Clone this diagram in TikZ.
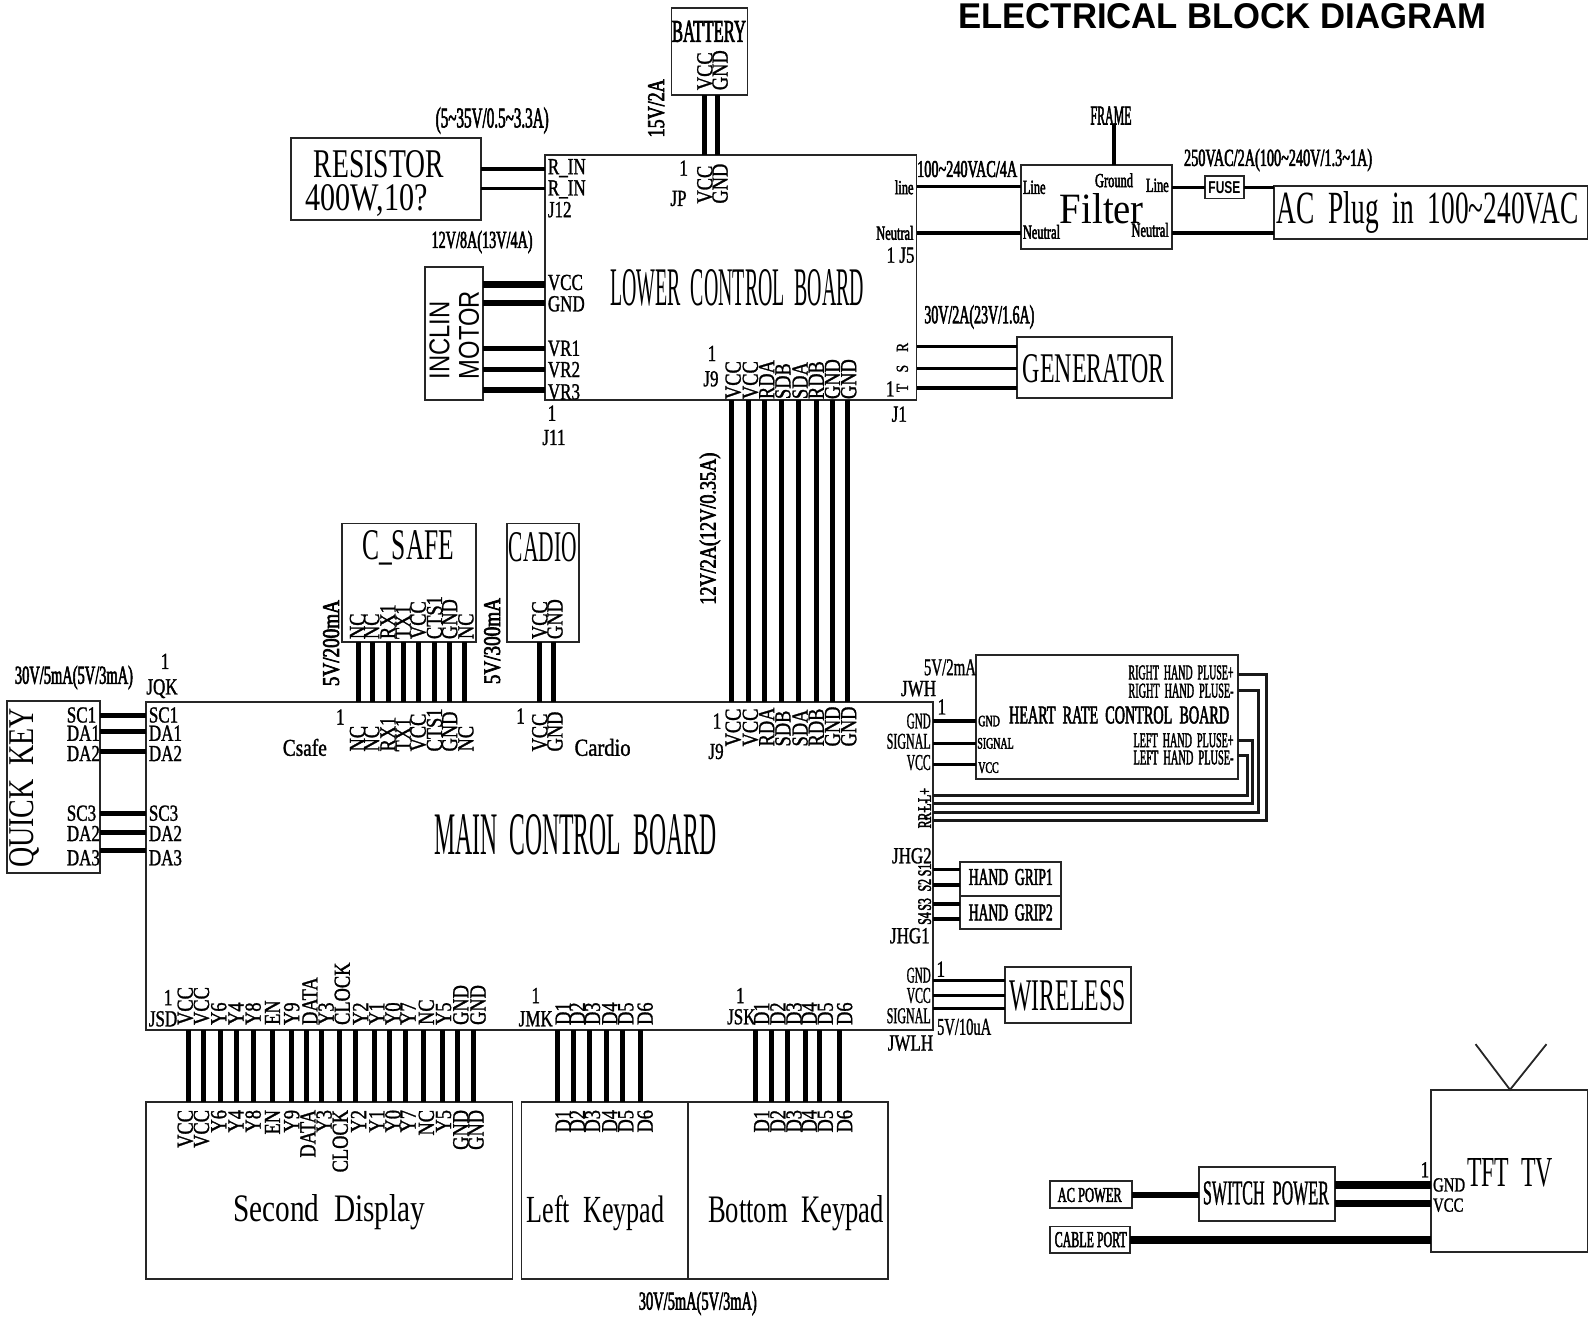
\documentclass[tikz,border=0pt]{standalone}
\usepackage{fontspec}
\usepackage{graphicx}
\setmainfont{Liberation Serif}
\newfontfamily\pinf[FakeStretch=0.8,FakeBold=1.2]{Liberation Serif}
\newfontfamily\hpinf[FakeStretch=0.74,FakeBold=1.2]{Liberation Serif}
\newfontfamily\smallf[FakeStretch=0.62,FakeBold=2.2]{Liberation Serif}
\newfontfamily\sansf{Liberation Sans}
\newcounter{lc}
\newcommand\tlab[3][]{\stepcounter{lc}\node[lab,#1] (t\thelc) at (#2) {#3};}
\newcommand\fitt[3]{\resizebox{#1pt}{#2pt}{#3}}
\newcommand\bx[5]{\node[box,minimum width={1.01276pt*(#4-#2)},minimum height={1.01276pt*(#5-#3)}] (#1) at (#2,#3) {};}
\tikzset{
  box/.style={draw=black!85,line width=1.8pt,anchor=north west,inner sep=0pt,outer sep=0pt,fill=white},
  lab/.style={inner sep=0pt,outer sep=0pt,text=black},
  wthin/.style={line width=3.5pt,black},
  wmid/.style={line width=5pt,black},
  wthick/.style={line width=6.5pt,black},
  wfine/.style={line width=3pt,black!90},
  pinv/.style={font=\fontsize{23}{23}\pinf,rotate=90,anchor=west},
  pinvd/.style={font=\fontsize{23}{23}\pinf,rotate=90,anchor=east},
  pinh/.style={font=\fontsize{23}{23}\hpinf,anchor=west},
  pinhe/.style={font=\fontsize{23}{23}\hpinf,anchor=east},
  tiny/.style={font=\fontsize{16}{16}\smallf},
  blob/.style={font=\fontsize{19}{19}\smallf,rotate=90},
}
\begin{document}
\begin{tikzpicture}[x=1.01276pt,y=-1.01276pt]
\useasboundingbox (0,0) rectangle (1568,1300);
% boxes
\bx{lower}{538}{153}{905}{395}
\bx{mainb}{144}{693}{921}{1017}
\bx{battery}{663}{8}{738}{94}
\bx{resistor}{287}{136}{475}{217}
\bx{inclin}{420}{264}{477}{395}
\bx{filter}{1008}{163}{1157}{246}
\bx{fuse}{1190}{174}{1228}{196}
\bx{acplug}{1258}{184}{1568}{236}
\bx{generator}{1004}{333}{1157}{393}
\bx{csafe}{338}{517}{470}{634}
\bx{cadio}{501}{517}{572}{634}
\bx{quick}{7}{692}{99}{862}
\bx{heart}{964}{647}{1222}{769}
\bx{grip1}{948}{851}{1048}{885}
\bx{grip2}{948}{885}{1048}{917}
\bx{wireless}{992}{955}{1117}{1010}
\bx{second}{144}{1088}{506}{1263}
\bx{leftk}{515}{1088}{679}{1263}
\bx{bottomk}{679}{1088}{877}{1263}
\bx{tv}{1413}{1076}{1568}{1236}
\bx{acpower}{1037}{1166}{1118}{1193}
\bx{switch}{1184}{1152}{1318}{1206}
\bx{cable}{1037}{1211}{1116}{1237}
% wires
\foreach \x in {696,708} \draw[wmid] (battery.south -| \x,0) -- (lower.north -| \x,0);
\foreach \y in {167,186} \draw[wthin] (resistor.east |- 0,\y) -- (lower.west |- 0,\y);
\foreach \y in {281,299} \draw[wthick] (inclin.east |- 0,\y) -- (lower.west |- 0,\y);
\foreach \y in {344,365} \draw[wmid] (inclin.east |- 0,\y) -- (lower.west |- 0,\y);
\draw[wthick] (inclin.east |- 0,385) -- (lower.west |- 0,385);
\foreach \y in {184,230} \draw[wthin] (lower.east |- 0,\y) -- (filter.west |- 0,\y);
\foreach \y in {342,364,383} \draw[wthin] (lower.east |- 0,\y) -- (generator.west |- 0,\y);
\draw[wthin] (filter.east |- 0,185) -- (fuse.west |- 0,185);
\draw[wthin] (fuse.east |- 0,185) -- (acplug.west |- 0,185);
\draw[wthin] (filter.east |- 0,230) -- (acplug.west |- 0,230);
\foreach \x in {722,739,755,772,788,806,822,837} \draw[wmid] (lower.south -| \x,0) -- (mainb.north -| \x,0);
\foreach \x in {354,368,384,398,413,429,444,459} \draw[wmid] (csafe.south -| \x,0) -- (mainb.north -| \x,0);
\foreach \x in {533,547} \draw[wmid] (cadio.south -| \x,0) -- (mainb.north -| \x,0);
\foreach \y in {706,722,742,803,822,840} \draw[wmid] (quick.east |- 0,\y) -- (mainb.west |- 0,\y);
\foreach \y in {712,734,755} \draw[wthin] (mainb.east |- 0,\y) -- (heart.west |- 0,\y);
\coordinate (c1) at (1250.7,666); \coordinate (c2) at (1243,682); \coordinate (c3) at (1237,731); \coordinate (c4) at (1232,746);
\draw[wfine] (heart.east |- c1) -- (c1) -- (c1 |- 0,810.6) -- (mainb.east |- 0,810.6);
\draw[wfine] (heart.east |- c2) -- (c2) -- (c2 |- 0,802.4) -- (mainb.east |- 0,802.4);
\draw[wfine] (heart.east |- c3) -- (c3) -- (c3 |- 0,793.8) -- (mainb.east |- 0,793.8);
\draw[wfine] (heart.east |- c4) -- (c4) -- (c4 |- 0,785.6) -- (mainb.east |- 0,785.6);
\foreach \y in {858.4,873.8} \draw[wthin] (mainb.east |- 0,\y) -- (grip1.west |- 0,\y);
\foreach \y in {892.6,907.4} \draw[wthin] (mainb.east |- 0,\y) -- (grip2.west |- 0,\y);
\foreach \y in {968.3,983,995.6} \draw[wthin] (mainb.east |- 0,\y) -- (wireless.west |- 0,\y);
\foreach \x in {186,201,217.7,233.5,250.7,269.3,288,302.7,317.5,335.7,351.4,369.6,384.8,400,418.2,436.8,452.1,467.3}
  \draw[wmid] (mainb.south -| \x,0) -- (second.north -| \x,0);
\foreach \x in {550.8,566.6,581.8,598.9,614.6,632.9} \draw[wmid] (mainb.south -| \x,0) -- (leftk.north -| \x,0);
\foreach \x in {746.3,762,777.8,794.9,809.6,828.9} \draw[wmid] (mainb.south -| \x,0) -- (bottomk.north -| \x,0);
\draw[wthick] (acpower.east |- 0,1180) -- (switch.west |- 0,1180);
\draw[line width=8pt] (switch.east |- 0,1170) -- (tv.west |- 0,1170);
\draw[line width=7pt] (switch.east |- 0,1188) -- (tv.west |- 0,1188);
\draw[line width=8pt] (cable.east |- 0,1224) -- (tv.west |- 0,1224);
% antenna
\coordinate (ant1) at (1457,1031); \coordinate (ant2) at (1527,1031); \coordinate (antb) at (1491,1076);
\draw[line width=1.8pt,black!85] (ant1) -- (antb) -- (ant2);
% title
\tlab{1207,16}{\fitt{528}{25}{\sansf\bfseries ELECTRICAL BLOCK DIAGRAM}}
% big labels
\node[lab] (frame) at (1097,114) {\fitt{41}{18}{\smallf FRAME}};
\draw[wthin] (frame.south -| 1100,0) -- (filter.north -| 1100,0);
\tlab{700,31}{\fitt{74}{21}{\smallf BATTERY}}
\tlab{374,162}{\fitt{130}{27}{RESISTOR}}
\tlab{362,198}{\fitt{122}{26}{400W,10?}}
\tlab[rotate=90]{434,336}{\fitt{78}{20}{\sansf INCLIN}}
\tlab[rotate=90]{463,331}{\fitt{88}{20}{\sansf MOTOR}}
\tlab{728,284}{\fitt{254}{36}{LOWER\ \ CONTROL\ \ BOARD}}
\tlab{1080,364}{\fitt{142}{28}{GENERATOR}}
\tlab{1088,206}{\fitt{84}{30}{Filter}}
\tlab{1209,185}{\fitt{32}{12}{\sansf\bfseries FUSE}}
\tlab{1410,210}{\fitt{302}{32}{AC\ \ Plug\ \ in\ \ 100\textasciitilde 240VAC}}
\tlab{403,541}{\fitt{92}{29}{C\_SAFE}}
\tlab{536,540}{\fitt{68}{29}{CADIO}}
\tlab{568,824}{\fitt{282}{40}{MAIN\ \ CONTROL\ \ BOARD}}
\tlab[rotate=90]{24,778}{\fitt{160}{24}{QUICK\ \ KEY}}
\tlab{1105,706}{\fitt{220}{17}{\smallf HEART\ \ RATE\ \ CONTROL\ \ BOARD}}
\tlab{998,866}{\fitt{84}{16}{\smallf HAND\ \ GRIP1}}
\tlab{998,901}{\fitt{84}{16}{\smallf HAND\ \ GRIP2}}
\tlab{1054,983}{\fitt{116}{30}{WIRELESS}}
\tlab{325,1197}{\fitt{192}{27}{Second\ \ Display}}
\tlab{588,1198}{\fitt{138}{27}{Left\ \ Keypad}}
\tlab{786,1198}{\fitt{176}{27}{Bottom\ \ Keypad}}
\tlab{1491,1158}{\fitt{86}{28}{TFT\ \ TV}}
\tlab{1076,1180}{\fitt{64}{14}{\smallf AC POWER}}
\tlab{1250,1178}{\fitt{126}{23}{\hpinf SWITCH\ \ POWER}}
\tlab{1077,1224}{\fitt{72}{15}{\smallf CABLE PORT}}
% notes
\tlab{486,119}{\fitt{113}{20}{\smallf (5\textasciitilde 35V/0.5\textasciitilde 3.3A)}}
\tlab[rotate=90]{648,107}{\fitt{58}{16}{\smallf 15V/2A}}
\tlab{476,239}{\fitt{101}{17}{\smallf 12V/8A(13V/4A)}}
\tlab{955,167}{\fitt{100}{16}{\smallf 100\textasciitilde 240VAC/4A}}
\tlab{1262,158}{\fitt{188}{17}{\smallf 250VAC/2A(100\textasciitilde 240V/1.3\textasciitilde 1A)}}
\tlab{967,313}{\fitt{110}{18}{\smallf 30V/2A(23V/1.6A)}}
\tlab[rotate=90]{701,522}{\fitt{152}{16}{\smallf 12V/2A(12V/0.35A)}}
\tlab[rotate=90]{327,635}{\fitt{86}{16}{\smallf 5V/200mA}}
\tlab[rotate=90]{486,633}{\fitt{86}{16}{\smallf 5V/300mA}}
\tlab{73,669}{\fitt{118}{18}{\smallf 30V/5mA(5V/3mA)}}
\tlab{938,659}{\fitt{52}{16}{\hpinf 5V/2mA}}
\tlab{952,1014}{\fitt{54}{16}{\hpinf 5V/10uA}}
\tlab{689,1287}{\fitt{118}{18}{\smallf 30V/5mA(5V/3mA)}}
% lower board pins
\foreach \t/\y in {R\_IN/166,R\_IN/187,J12/207,VCC/279,GND/300,VR1/344,VR2/365,VR3/387} {\tlab[pinh]{541,\y}{\t}}
\foreach \t/\x in {VCC/696,GND/711} {\tlab[pinv]{\x,201}{\t}\tlab[pinv]{\x,89}{\t}}
\tlab[pinh,anchor=center]{675,166}{1}
\tlab[pinh,anchor=center]{670,196}{JP}
\tlab[pinh,anchor=center]{545,408}{1}
\tlab[pinh,anchor=center]{547,432}{J11}
\tlab[pinh,anchor=center]{703,349}{1}
\tlab[pinh,anchor=center]{702,374}{J9}
\foreach \t/\x in {VCC/724,VCC/741,RDA/757,SDB/773,SDA/790,RDB/806,GND/822,GND/838} {\tlab[pinv]{\x,394}{\t}}
\tlab[pinhe,font=\fontsize{20}{20}\smallf]{902,185}{line}
\tlab[pinhe,font=\fontsize{20}{20}\smallf]{902,230}{Neutral}
\tlab[pinhe]{903,252}{1 J5}
\tlab[pinv,font=\fontsize{17}{17}\pinf,anchor=center]{891,343}{R}
\tlab[pinv,font=\fontsize{17}{17}\pinf,anchor=center]{891,364}{S}
\tlab[pinv,font=\fontsize{17}{17}\pinf,anchor=center]{891,383}{T}
\tlab[pinh,anchor=center]{879,384}{1}
\tlab[pinh,anchor=center]{888,409}{J1}
% filter pins
\tlab[font=\fontsize{20}{20}\smallf,anchor=west]{1010,185}{Line}
\tlab[font=\fontsize{20}{20}\smallf,anchor=west]{1010,229}{Neutral}
\tlab[font=\fontsize{20}{20}\smallf]{1100,178}{Ground}
\tlab[font=\fontsize{20}{20}\smallf,anchor=east]{1154,183}{Line}
\tlab[font=\fontsize{20}{20}\smallf,anchor=east]{1154,227}{Neutral}
% c_safe / cardio
\foreach \t/\x in {NC/353,NC/367,RX1/383,TX1/398,VCC/413,CTS1/429,GND/444,NC/460} {\tlab[pinv]{\x,631}{\t}\tlab[pinv]{\x,742}{\t}}
\foreach \t/\x in {VCC/533,GND/548} {\tlab[pinv]{\x,631}{\t}\tlab[pinv]{\x,742}{\t}}
\tlab[pinh,anchor=center]{336,708}{1}
\tlab[pinh,anchor=center]{514,707}{1}
\tlab{301,738}{\fitt{44}{17}{\hpinf Csafe}}
\tlab{595,738}{\fitt{56}{17}{\hpinf Cardio}}
\tlab[pinh,anchor=center]{708,712}{1}
\tlab[pinh,anchor=center]{707,742}{J9}
\foreach \t/\x in {VCC/724,VCC/741,RDA/757,SDB/773,SDA/790,RDB/806,GND/822,GND/838} {\tlab[pinv]{\x,737}{\t}}
% quick key
\tlab[pinh,anchor=center]{163,653}{1}
\tlab[pinh,anchor=center]{160,680}{JQK}
\foreach \t/\y in {SC1/706,DA1/724,DA2/744,SC3/803,DA2/823,DA3/847} {\tlab[pinh]{66,\y}{\t}\tlab[pinh]{147,\y}{\t}}
% right side
\tlab[pinh,anchor=center]{907,680}{JWH}
\tlab[pinh,anchor=center]{930,698}{1}
\foreach \t/\y in {GND/712,VCC/753,GND/963,VCC/983} {\tlab[anchor=east]{919,\y}{\fitt{24}{15}{\hpinf \t}}}
\foreach \y in {732,1003} {\tlab[anchor=east]{919,\y}{\fitt{44}{15}{\hpinf SIGNAL}}}
\tlab[tiny,anchor=west]{966,712}{GND}
\tlab[tiny,anchor=west]{965,734}{SIGNAL}
\tlab[tiny,anchor=west]{966,758}{VCC}
\tlab[anchor=east]{1218,664}{\fitt{105}{14}{\smallf RIGHT\ \ HAND\ \ PLUSE+}}
\tlab[anchor=east]{1218,682}{\fitt{105}{14}{\smallf RIGHT\ \ HAND\ \ PLUSE-}}
\tlab[anchor=east]{1218,731}{\fitt{100}{14}{\smallf LEFT\ \ HAND\ \ PLUSE+}}
\tlab[anchor=east]{1218,748}{\fitt{100}{14}{\smallf LEFT\ \ HAND\ \ PLUSE-}}
\foreach \t/\y in {L+/785,L-/795,R+/803,R-/812,S1/859,S2/874,S3/893,S4/907} {\tlab[blob]{913,\y}{\t}}
\tlab[pinhe]{920,845}{JHG2}
\tlab[pinhe]{918,924}{JHG1}
\tlab[pinh,anchor=center]{899,1030}{JWLH}
\tlab[pinh,anchor=center]{929,957}{1}
% bottom
\tlab[pinh,anchor=center]{166,985}{1}
\tlab[pinh,anchor=center]{161,1006}{JSD}
\tlab[pinh,anchor=center]{529,983}{1}
\tlab[pinh,anchor=center]{529,1006}{JMK}
\tlab[pinh,anchor=center]{731,983}{1}
\tlab[pinh,anchor=center]{732,1004}{JSK}
\foreach \t/\x in {VCC/183,VCC/199,Y6/216,Y4/233,Y8/250,EN/269,Y9/288,DATA/306,Y3/322,CLOCK/338,Y2/356,Y1/372,Y0/388,Y7/403,NC/421,Y5/438,GND/455,GND/472}
  {\tlab[pinv]{\x,1012}{\t}}
\foreach \t/\x in {VCC/183,VCC/199,Y6/216,Y4/233,Y8/250,EN/269,Y9/288,DATA/304,Y3/320,CLOCK/336,Y2/354,Y1/372,Y0/388,Y7/403,NC/421,Y5/438,GND/455,GND/470}
  {\tlab[pinvd]{\x,1096}{\t}}
\foreach \t/\x in {D1/556,D2/570,D3/585,D4/602,D5/618,D6/637} {\tlab[pinv]{\x,1012}{\t}\tlab[pinvd]{\x,1096}{\t}}
\foreach \t/\x in {D1/752,D2/768,D3/784,D4/799,D5/815,D6/834} {\tlab[pinv]{\x,1012}{\t}\tlab[pinvd]{\x,1096}{\t}}
% tv
\tlab[pinh,anchor=center]{1407,1155}{1}
\tlab[font=\fontsize{20}{20}\hpinf,anchor=west]{1415,1170}{GND}
\tlab[font=\fontsize{20}{20}\hpinf,anchor=west]{1415,1190}{VCC}
\end{tikzpicture}
\end{document}
